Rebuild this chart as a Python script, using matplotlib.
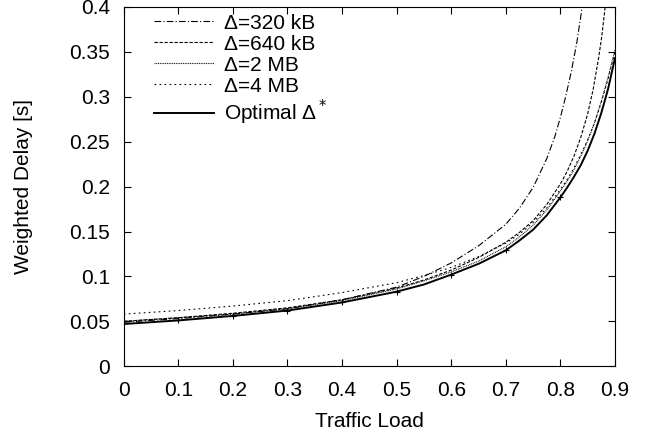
import numpy as np
import matplotlib
matplotlib.use('Agg')
import matplotlib.pyplot as plt

plt.rcParams['font.family'] = ['Liberation Sans', 'DejaVu Sans']

# Traffic load grid (shared by the 2 MB, 4 MB and optimal curves)
load = [0.0, 0.1, 0.2, 0.3, 0.4, 0.5, 0.55, 0.6, 0.65, 0.7, 0.725, 0.75, 0.775, 0.8,
        0.8125, 0.825, 0.8375, 0.85, 0.8625, 0.875, 0.8875, 0.9]

# Delta = 320 kB (blows up earliest, own grid)
load_320 = [0.0, 0.1, 0.2, 0.3, 0.4, 0.5, 0.55, 0.6, 0.65, 0.7, 0.725, 0.75, 0.775, 0.79, 0.8,
            0.81, 0.82, 0.83, 0.84, 0.85]
delay_320 = [0.049, 0.053, 0.058, 0.064, 0.074, 0.088, 0.100, 0.115, 0.134, 0.158, 0.176, 0.199,
             0.231, 0.256, 0.277, 0.301, 0.328, 0.360, 0.400, 0.448]

# Delta = 640 kB (own grid)
load_640 = [0.0, 0.1, 0.2, 0.3, 0.4, 0.5, 0.55, 0.6, 0.65, 0.7, 0.725, 0.75, 0.775, 0.8, 0.8125,
            0.825, 0.8375, 0.85, 0.86, 0.87, 0.876, 0.882, 0.89]
delay_640 = [0.050, 0.054, 0.059, 0.065, 0.074, 0.087, 0.096, 0.107, 0.121, 0.138, 0.149, 0.162,
             0.180, 0.203, 0.217, 0.234, 0.255, 0.281, 0.308, 0.343, 0.368, 0.400, 0.450]

delay_2mb = [0.050, 0.054, 0.058, 0.064, 0.073, 0.086, 0.095, 0.105, 0.117, 0.133, 0.144, 0.157,
             0.174, 0.195, 0.206, 0.219, 0.234, 0.251, 0.271, 0.295, 0.322, 0.352]
delay_4mb = [0.058, 0.062, 0.067, 0.073, 0.082, 0.093, 0.101, 0.110, 0.122, 0.137, 0.147, 0.160,
             0.176, 0.197, 0.208, 0.221, 0.236, 0.252, 0.271, 0.294, 0.320, 0.350]
delay_opt = [0.047, 0.051, 0.056, 0.062, 0.071, 0.083, 0.091, 0.102, 0.114, 0.129, 0.140, 0.152,
             0.168, 0.188, 0.199, 0.211, 0.224, 0.240, 0.259, 0.282, 0.309, 0.343]

# '+' markers on the optimal curve at 0.1 .. 0.8
opt_marks = [1, 2, 3, 4, 5, 7, 9, 13]

fig = plt.figure(figsize=(6.48, 4.37), dpi=100)
ax = fig.add_axes([0.191, 0.162, 0.758, 0.822])

ax.plot(load_320, delay_320, color='black', lw=0.8, ls=(0, (6, 2, 1, 2)), label='Δ=320 kB')
ax.plot(load_640, delay_640, color='black', lw=0.8, ls=(0, (3, 1.5)), label='Δ=640 kB')
ax.plot(load, delay_2mb, color='black', lw=0.8, ls=(0, (0.8, 0.8)), label='Δ=2 MB')
ax.plot(load, delay_4mb, color='black', lw=0.8, ls=(0, (1.5, 3)), label='Δ=4 MB')
ax.plot(load, delay_opt, color='black', lw=1.4, ls='-', label='Optimal Δ$^*$')
ax.plot(load, delay_opt, ls='none', color='black', marker='+', markersize=5,
        markeredgewidth=0.8, markevery=opt_marks)

ax.set_xlim(0, 0.9)
ax.set_ylim(0, 0.4)
ax.set_xticks(np.arange(0, 0.91, 0.1))
ax.set_xticklabels(['0', '0.1', '0.2', '0.3', '0.4', '0.5', '0.6', '0.7', '0.8', '0.9'])
ax.set_yticks(np.arange(0, 0.41, 0.05))
ax.set_yticklabels(['0', '0.05', '0.1', '0.15', '0.2', '0.25', '0.3', '0.35', '0.4'])
ax.tick_params(direction='in', top=True, right=True, length=5, labelsize=15)
ax.tick_params(axis='x', pad=11)
ax.tick_params(axis='y', pad=10)

ax.set_xlabel('Traffic Load', fontsize=15, labelpad=8)
ax.set_ylabel('Weighted Delay [s]', fontsize=15, labelpad=26)

ax.legend(loc='upper left', frameon=False, fontsize=15, handlelength=2.85,
          handletextpad=0.5, labelspacing=0.1, borderaxespad=0.0,
          bbox_to_anchor=(0.045, 1.005))

fig.savefig('out.png', dpi=100)
